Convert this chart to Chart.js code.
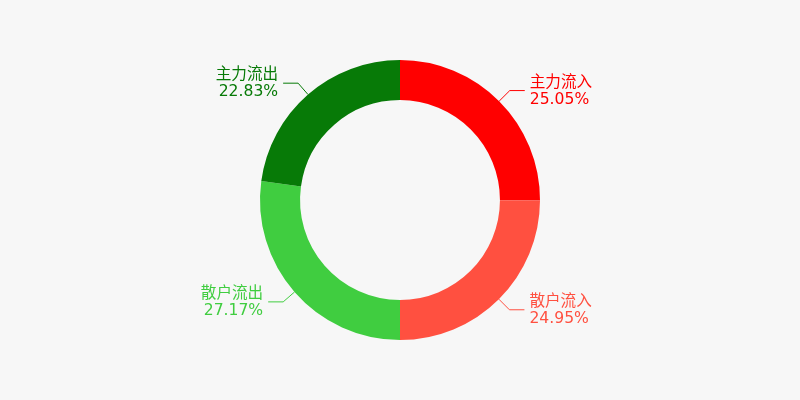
<!DOCTYPE html>
<html lang="zh">
<head>
<meta charset="UTF-8">
<title>资金流向</title>
<script src="https://cdn.jsdelivr.net/npm/chart.js"></script>
<style>
    html, body { margin: 0; padding: 0; background: #f7f7f7; }
    #flowChart { display: block; }
</style>
</head>
<body>
<canvas id="flowChart" width="800" height="400"></canvas>
<script>
    const categories = ['主力流入', '散户流入', '散户流出', '主力流出'];
    const shares = [25.05, 24.95, 27.17, 22.83];
    const colors = ['#ff0000', '#ff5040', '#40cd40', '#077a07'];

    // draws the leader lines and two-line labels outside each slice
    const outerLabels = {
        id: 'outerLabels',
        afterDatasetsDraw(chart) {
            const ctx = chart.ctx;
            const meta = chart.getDatasetMeta(0);
            ctx.save();
            ctx.font = '15.6px "DejaVu Sans", "Noto Sans CJK SC", sans-serif';
            ctx.textBaseline = 'middle';
            meta.data.forEach((arc, i) => {
                const mid = (arc.startAngle + arc.endAngle) / 2;
                const cos = Math.cos(mid), sin = Math.sin(mid);
                const x0 = arc.x + cos * arc.outerRadius;
                const y0 = arc.y + sin * arc.outerRadius;
                const x1 = arc.x + cos * (arc.outerRadius + 15);
                const y1 = arc.y + sin * (arc.outerRadius + 15);
                const right = cos >= 0;
                const x2 = x1 + (right ? 15 : -15);
                ctx.strokeStyle = colors[i];
                ctx.lineWidth = 1;
                ctx.beginPath();
                ctx.moveTo(x0, y0);
                ctx.lineTo(x1, y1);
                ctx.lineTo(x2, y1);
                ctx.stroke();
                ctx.fillStyle = colors[i];
                ctx.textAlign = right ? 'left' : 'right';
                const tx = x2 + (right ? 5 : -5);
                ctx.fillText(categories[i], tx, y1 - 8);
                ctx.fillText(shares[i].toFixed(2) + '%', tx, y1 + 9);
            });
            ctx.restore();
        }
    };

    new Chart(document.getElementById('flowChart'), {
        type: 'doughnut',
        data: {
            labels: categories,
            datasets: [{
                data: shares,
                backgroundColor: colors,
                borderWidth: 0
            }]
        },
        options: {
            responsive: false,
            animation: false,
            cutout: '71.4%',
            layout: { padding: { top: 60, bottom: 60 } },
            plugins: {
                legend: { display: false },
                tooltip: { enabled: false }
            }
        },
        plugins: [outerLabels]
    });
</script>
</body>
</html>
